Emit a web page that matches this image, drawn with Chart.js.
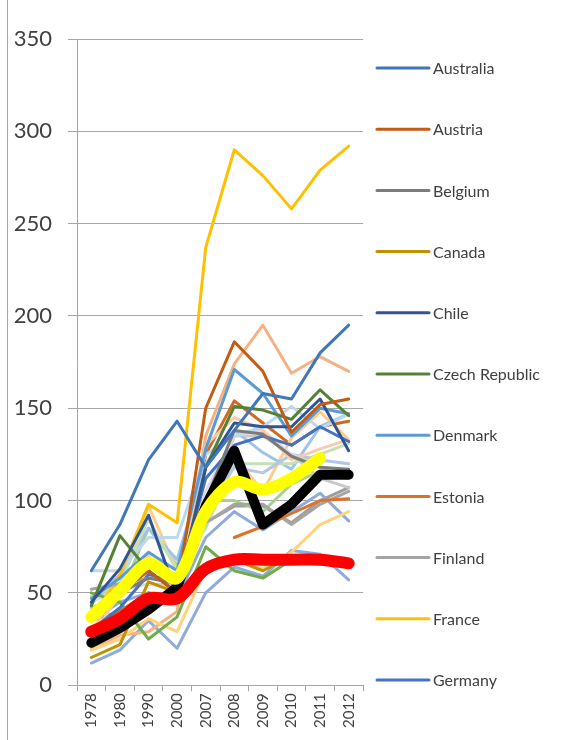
<!DOCTYPE html>
<html>
<head>
<meta charset="utf-8">
<script src="https://cdn.jsdelivr.net/npm/chart.js@4"></script>
<style>
  html, body { margin: 0; padding: 0; background: #fff; }
  #wrap { position: relative; width: 570px; height: 740px; }
  #frame { position: absolute; left: 7px; top: 0; width: 1px; height: 740px; background: #a6a6a6; }
  canvas { position: absolute; left: 0; top: 0; }
</style>
</head>
<body>
<div id="wrap">
  <div id="frame"></div>
  <canvas id="myChart" width="570" height="740"></canvas>
</div>
<script>
// categories
const years = ['1978', '1980', '1990', '2000', '2007', '2008', '2009', '2010', '2011', '2012'];
const yTicks = [0, 50, 100, 150, 200, 250, 300, 350];

// series values
const australia     = [62, 87, 122, 143, 118, 138, 158, 155, 180, 195];
const austria       = [40, 50, 62, 50, 150, 186, 170, 137, 152, 155];
const belgium       = [38, 50, 58, 55, 100, 138, 136, 124, 118, 117];
const canada        = [15, 22, 56, 50, 65, 68, 62, 70, 68, 66];
const chile         = [45, 63, 92, 48, 118, 142, 140, 140, 155, 127];
const czechRepublic = [43, 81, 62, 50, 118, 151, 149, 144, 160, 146];
const denmark       = [47, 58, 72, 62, 128, 171, 158, 135, 150, 147];
const estonia       = [null, null, null, null, null, 80, 86, 93, 100, 101];
const finland       = [52, 55, 58, 57, 88, 98, 98, 87, 98, 105];
const france        = [35, 60, 98, 88, 237, 290, 276, 258, 279, 292];
const germany       = [30, 42, 60, 55, 112, 130, 135, 130, 140, 132];
const greece        = [50, 45, 25, 37, 75, 62, 58, 68, 68, 67];
const hungary       = [62, 62, 80, 80, 125, 135, 140, 151, 139, 147];
const iceland       = [25, 50, 70, 55, 130, 145, 138, 122, 128, 133];
const ireland       = [45, 52, 55, 52, 105, 135, 138, 125, 118, 112];
const israel        = [19, 25, 36, 29, 63, 70, 63, 72, 87, 94];
const italy         = [40, 55, 65, 58, 95, 118, 115, 125, 122, 120];
const japan         = [48, 55, 90, 62, 85, 120, 120, 120, 125, 131];
const korea         = [44, 60, 85, 68, 120, 138, 126, 117, 140, 147];
const luxembourg    = [20, 27, 29, 40, 135, 174, 195, 169, 178, 170];
const mexico        = [48, 52, 55, 54, 95, 135, 135, 125, 112, 107];
const netherlands   = [28, 55, 97, 62, 100, 124, 105, 134, 148, 133];
const newZealand    = [12, 19, 35, 20, 50, 64, 59, 73, 71, 57];
const norway        = [35, 45, 50, 47, 80, 94, 84, 94, 104, 89];
const poland        = [42, 48, 85, 65, 100, 100, 94, 109, 116, 112];
const portugal      = [30, 40, 50, 45, 125, 154, 142, 130, 140, 143];
const spain         = [35, 40, 50, 48, 88, 97, 97, 88, 100, 107];
const unitedStates  = [23, 31, 41, 53, 97, 127, 87, 98, 114, 114];
const oecdAverage   = [37, 51, 66, 58, 94, 110, 106, 112, 123, null];
const unitedKingdom = [29, 36, 47, 47, 63, 68, 68, 68, 68, 66];

const legendCount = 11; // the legend only has room for the first 11 countries

const thin = [
  ['Australia', australia, '#3F77B8'],
  ['Austria', austria, '#C55A11'],
  ['Belgium', belgium, '#7B7B7B'],
  ['Canada', canada, '#BF9000'],
  ['Chile', chile, '#2F5597'],
  ['Czech Republic', czechRepublic, '#548235'],
  ['Denmark', denmark, '#5B9BD5'],
  ['Estonia', estonia, '#E07228'],
  ['Finland', finland, '#A5A5A5'],
  ['France', france, '#FFC000'],
  ['Germany', germany, '#4472C4'],
  ['Greece', greece, '#70AD47'],
  ['Hungary', hungary, '#BDD7EE'],
  ['Iceland', iceland, '#F8CBAD'],
  ['Ireland', ireland, '#DBDBDB'],
  ['Israel', israel, '#FFD37A'],
  ['Italy', italy, '#B4C7E7'],
  ['Japan', japan, '#C5E0B4'],
  ['Korea', korea, '#9DC3E6'],
  ['Luxembourg', luxembourg, '#F4B183'],
  ['Mexico', mexico, '#C9C9C9'],
  ['Netherlands', netherlands, '#FFCC8A'],
  ['New Zealand', newZealand, '#8FAADC'],
  ['Norway', norway, '#8FAADC'],
  ['Poland', poland, '#A9D18E'],
  ['Portugal', portugal, '#D2691E'],
  ['Spain', spain, '#9E9E9E']
];

function makeDatasets() {
  const sets = thin.map(([label, data, color]) => ({
    label, data,
    borderColor: color,
    borderWidth: 3,
    order: 10
  }));
  sets.push({ label: 'United States', data: unitedStates, borderColor: '#000000', borderWidth: 10, order: 3 });
  sets.push({ label: 'OECD average', data: oecdAverage, borderColor: '#FFFF00', borderWidth: 12, tension: 0.3, order: 2 });
  sets.push({ label: 'United Kingdom', data: unitedKingdom, borderColor: '#FF0000', borderWidth: 12, tension: 0.35, order: 1 });
  return sets;
}

// legend drawn down the right side, like the excel one
const sideLegend = {
  id: 'sideLegend',
  afterDraw(chart) {
    const ctx = chart.ctx;
    ctx.save();
    ctx.font = '16px Lato';
    ctx.textBaseline = 'middle';
    ctx.lineCap = 'round';
    chart.data.datasets.slice(0, legendCount).forEach((ds, i) => {
      const y = 68 + i * 61.2;
      ctx.strokeStyle = ds.borderColor;
      ctx.lineWidth = 3;
      ctx.beginPath();
      ctx.moveTo(377, y);
      ctx.lineTo(429, y);
      ctx.stroke();
      ctx.fillStyle = '#404040';
      ctx.fillText(ds.label, 433, y + 1);
    });
    ctx.restore();
  }
};

function initChart(target) {
  return new Chart(target, {
    type: 'line',
    data: { labels: years, datasets: makeDatasets() },
    options: {
      responsive: false,
      animation: false,
      spanGaps: false,
      layout: { padding: { left: 12, right: 207, top: 39, bottom: 10 } },
      elements: {
        point: { radius: 0, hoverRadius: 0 },
        line: { borderJoinStyle: 'round', borderCapStyle: 'round', tension: 0 }
      },
      plugins: { legend: { display: false }, tooltip: { enabled: false } },
      scales: {
        x: {
          offset: true,
          grid: { drawOnChartArea: false, offset: true, tickLength: 6, color: '#a6a6a6' },
          border: { color: '#a6a6a6' },
          ticks: { minRotation: 90, maxRotation: 90, padding: 2, color: '#404040', font: { family: 'Lato', size: 15 } }
        },
        y: {
          min: yTicks[0],
          max: yTicks[yTicks.length - 1],
          afterBuildTicks: (axis) => { axis.ticks = yTicks.map(v => ({ value: v })); },
          afterFit: (axis) => { axis.width = 65; },
          grid: { color: '#a6a6a6', tickLength: 9 },
          border: { color: '#a6a6a6' },
          ticks: { padding: 16, color: '#404040', font: { family: 'Lato', size: 22 } }
        }
      }
    },
    plugins: [sideLegend]
  });
}

document.addEventListener('DOMContentLoaded', () => initChart(document.querySelector('#myChart')));
</script>
</body>
</html>
